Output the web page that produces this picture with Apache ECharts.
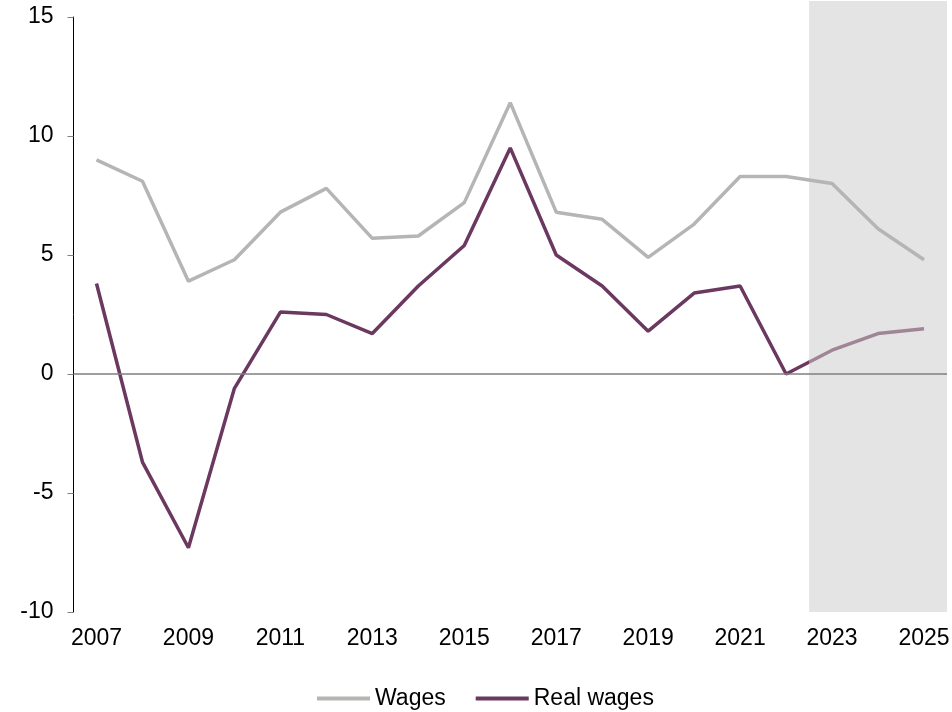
<!DOCTYPE html>
<html>
<head>
<meta charset="utf-8">
<script src="https://cdn.jsdelivr.net/npm/echarts@6/dist/echarts.min.js"></script>
<style>
html,body{margin:0;padding:0;background:#fff;}
#chart{width:952px;height:712px;}
</style>
</head>
<body>
<div id="chart"></div>
<script>
const years = ['2007','2008','2009','2010','2011','2012','2013','2014','2015','2016','2017','2018','2019','2020','2021','2022','2023','2024','2025'];
const wages = [9.0, 8.1, 3.9, 4.8, 6.8, 7.8, 5.7, 5.8, 7.2, 11.4, 6.8, 6.5, 4.9, 6.3, 8.3, 8.3, 8.0, 6.1, 4.8];
const realWages = [3.8, -3.7, -7.3, -0.6, 2.6, 2.5, 1.7, 3.7, 5.4, 9.5, 5.0, 3.7, 1.8, 3.4, 3.7, 0.0, 1.0, 1.7, 1.9];
const yTicks = [-10, -5, 0, 5, 10, 15];
const forecastStart = '2023';

const FONT = '"Liberation Sans", Arial, sans-serif';
const GREY = '#b5b6b3';
const PURPLE = '#6b3860';
const PURPLE_LIGHT = '#a08597';

const fIdx = years.indexOf(forecastStart);
const toPairs = arr => arr.map((v, i) => [i, v]);

const chart = echarts.init(document.getElementById('chart'));
chart.setOption({
  animation: false,
  textStyle: { fontFamily: FONT },
  grid: [
    { left: 73.5, right: 5, top: 17, bottom: 100, outerBoundsMode: 'none' },
    { left: 73.5, right: 5, top: 1, bottom: 100, outerBoundsMode: 'none', containLabel: false }
  ],
  xAxis: [
    {
      type: 'category',
      gridIndex: 0,
      data: years,
      boundaryGap: true,
      axisLine: { show: false },
      axisTick: { show: false },
      axisLabel: { interval: 1, color: '#000', fontSize: 23, fontFamily: FONT, margin: 15 },
      splitLine: { show: false }
    },
    { type: 'value', gridIndex: 0, min: -0.5, max: years.length - 0.5, show: false },
    { type: 'value', gridIndex: 1, min: -0.5, max: years.length - 0.5, show: false }
  ],
  yAxis: [
    {
      type: 'value',
      gridIndex: 0,
      min: yTicks[0],
      max: yTicks[yTicks.length - 1],
      interval: 5,
      axisLine: { show: true, onZero: false, lineStyle: { color: '#000', width: 1 } },
      axisTick: { show: true, length: 6, lineStyle: { color: '#808080' } },
      axisLabel: { color: '#000', fontSize: 23, fontFamily: FONT, margin: 20 },
      splitLine: { show: false }
    },
    { type: 'value', gridIndex: 1, min: 0, max: 1, show: false }
  ],
  legend: {
    left: 312,
    bottom: -3,
    itemWidth: 53,
    itemHeight: 4,
    itemGap: 30,
    icon: 'rect',
    textStyle: { fontSize: 23, color: '#000', fontFamily: FONT },
    data: [
      { name: 'Wages', itemStyle: { color: GREY } },
      { name: 'Real wages', itemStyle: { color: PURPLE } }
    ]
  },
  visualMap: {
    type: 'piecewise',
    show: false,
    dimension: 0,
    seriesIndex: 1,
    pieces: [
      { gte: -1, lt: fIdx - 0.5, color: PURPLE },
      { gte: fIdx - 0.5, lte: years.length, color: PURPLE_LIGHT }
    ]
  },
  series: [
    {
      name: 'Wages',
      type: 'line',
      xAxisIndex: 1,
      yAxisIndex: 0,
      data: toPairs(wages),
      symbol: 'none',
      lineStyle: { color: GREY, width: 3.5 },
      itemStyle: { color: GREY },
      markLine: {
        silent: true,
        symbol: 'none',
        label: { show: false },
        lineStyle: { color: '#7f7f7f', width: 1.5, type: 'solid' },
        data: [{ yAxis: 0 }]
      }
    },
    {
      name: 'Real wages',
      type: 'line',
      xAxisIndex: 1,
      yAxisIndex: 0,
      data: toPairs(realWages),
      symbol: 'none',
      lineStyle: { width: 3.5 },
      itemStyle: { color: PURPLE }
    },
    {
      name: 'Forecast',
      type: 'line',
      xAxisIndex: 2,
      yAxisIndex: 1,
      data: [],
      symbol: 'none',
      silent: true,
      clip: false,
      markArea: {
        silent: true,
        z: 0,
        itemStyle: { color: '#e4e4e4' },
        data: [[{ xAxis: fIdx - 0.5, yAxis: 0 }, { xAxis: years.length - 0.5, yAxis: 1 }]]
      }
    }
  ]
});
</script>
</body>
</html>
